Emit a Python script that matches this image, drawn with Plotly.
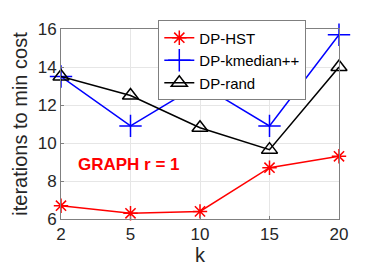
import plotly.graph_objects as go

k = ["2", "5", "10", "15", "20"]
dp_hst = [6.7, 6.3, 6.4, 8.7, 9.3]
dp_kmedian = [13.5, 10.9, 13.1, 10.9, 15.7]
dp_rand = [13.5, 12.5, 10.8, 9.65, 14.0]
y_ticks = [6, 8, 10, 12, 14, 16]

font = "Liberation Sans, Arial, sans-serif"

trace1 = go.Scatter(x=k, y=dp_hst, mode="lines+markers", name="DP-HST",
                    line=dict(color="#ff0000", width=1.5),
                    marker=dict(symbol="asterisk-open", size=12,
                                line=dict(color="#ff0000", width=1.5)),
                    cliponaxis=False)
trace2 = go.Scatter(x=k, y=dp_kmedian, mode="lines+markers", name="DP-kmedian++",
                    line=dict(color="#0000ff", width=1.5),
                    marker=dict(symbol="cross-thin-open", size=16,
                                line=dict(color="#0000ff", width=1.5)),
                    cliponaxis=False)
trace3 = go.Scatter(x=k, y=dp_rand, mode="lines+markers", name="DP-rand",
                    line=dict(color="#000000", width=1.5),
                    marker=dict(symbol="triangle-up-open", size=14,
                                line=dict(color="#000000", width=1.5)),
                    cliponaxis=False)

# page body has an 8px margin, so the figure is a bit smaller than the window
layout = go.Layout(
    width=358, height=264,
    margin=dict(l=45, r=27, t=13, b=44),
    paper_bgcolor="white", plot_bgcolor="white",
    font=dict(family=font, size=17, color="#262626"),
    showlegend=True,
    legend=dict(x=0.35, y=1.045, xanchor="left", yanchor="top",
                bgcolor="white", bordercolor="#7f7f7f", borderwidth=1,
                font=dict(size=15, color="#000000"),
                tracegroupgap=0, itemwidth=30),
    xaxis=dict(type="category", range=[0, 4], title=dict(text="k", standoff=2),
               showgrid=True, gridcolor="#e6e6e6", zeroline=False,
               showline=True, linecolor="#808080", mirror=True,
               ticks="inside", ticklen=3, tickcolor="#808080"),
    yaxis=dict(range=[6, 16], tickvals=y_ticks,
               title=dict(text="iterations to min cost", standoff=4),
               showgrid=True, gridcolor="#e6e6e6", zeroline=False,
               showline=True, linecolor="#808080", mirror=True,
               ticks="inside", ticklen=3, tickcolor="#808080"),
    annotations=[dict(x=0.98, y=8.88, xref="x", yref="y", text="<b>GRAPH r = 1</b>",
                      showarrow=False, font=dict(size=17, color="#ff0000"))],
)

fig = go.Figure(data=[trace1, trace2, trace3], layout=layout)
fig.write_html("out.html")
